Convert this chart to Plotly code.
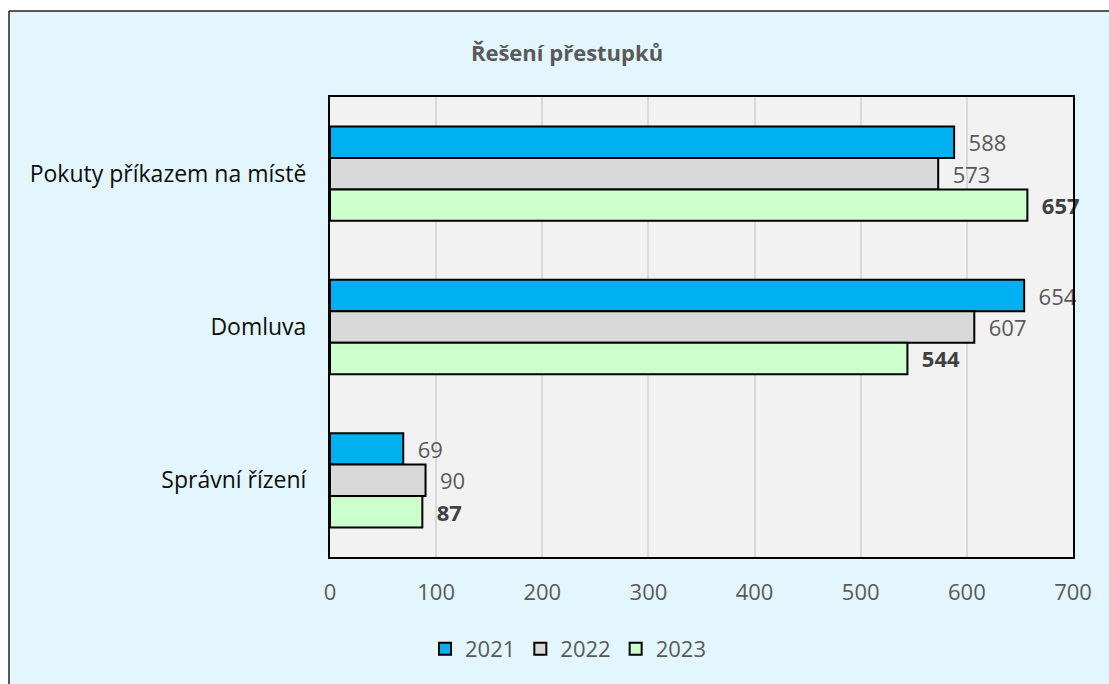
import plotly.graph_objects as go

categories = ["Pokuty příkazem na místě", "Domluva", "Správní řízení"]
years = ["2021", "2022", "2023"]
values_2021 = [588, 654, 69]
values_2022 = [573, 607, 90]
values_2023 = [657, 544, 87]
x_ticks = [0, 100, 200, 300, 400, 500, 600, 700]
title_text = "Řešení přestupků"

colors = ["#00B0F0", "#D9D9D9", "#CCFFCC"]
series = [values_2021, values_2022, values_2023]

W, H = 1109, 684
L, R, T, B = 330, 1073, 97, 557  # plot area pixel box
FONT = "Open Sans"

fig = go.Figure()
for i, (yr, vals, col) in enumerate(zip(years, series, colors)):
    bold = (i == 2)
    fig.add_trace(go.Bar(
        name=yr, y=categories, x=vals, orientation="h",
        marker=dict(color=col, line=dict(color="black", width=2)),
        text=[str(v) for v in vals],
        texttemplate="\u00a0\u00a0<b>%{text}</b>" if bold else "\u00a0\u00a0%{text}",
        textposition="outside",
        constraintext="none",
        cliponaxis=False,
        outsidetextfont=dict(family=FONT, size=22,
                             color="#404040" if bold else "#595959"),
        hoverinfo="skip",
    ))

def px_to_paper_x(px):
    return (px - L) / (R - L)

def px_to_paper_y(py):
    return (B - py) / (B - T)

shapes = [
    dict(type="rect", xref="paper", yref="paper",
         x0=px_to_paper_x(-5), x1=px_to_paper_x(W + 5),
         y0=px_to_paper_y(11), y1=px_to_paper_y(-5),
         fillcolor="white", line=dict(width=0), layer="below"),
    dict(type="rect", xref="paper", yref="paper",
         x0=px_to_paper_x(-5), x1=px_to_paper_x(9),
         y0=px_to_paper_y(H + 5), y1=px_to_paper_y(-5),
         fillcolor="white", line=dict(width=0), layer="below"),
    dict(type="line", xref="paper", yref="paper",
         x0=px_to_paper_x(9), x1=px_to_paper_x(W + 5),
         y0=px_to_paper_y(11), y1=px_to_paper_y(11),
         line=dict(color="#222222", width=1.5), layer="below"),
    dict(type="line", xref="paper", yref="paper",
         x0=px_to_paper_x(9), x1=px_to_paper_x(9),
         y0=px_to_paper_y(11), y1=px_to_paper_y(H + 5),
         line=dict(color="#222222", width=1.5), layer="below"),
]

fig.update_layout(
    width=W, height=H,
    margin=dict(l=L, r=W - R, t=T, b=H - B, autoexpand=False),
    paper_bgcolor="#E3F6FD",
    plot_bgcolor="#F2F2F2",
    barmode="group",
    bargap=0.385,
    bargroupgap=0,
    showlegend=True,
    legend=dict(orientation="h", xref="container", yref="container",
                x=568 / W, xanchor="center", y=1 - 649 / H, yanchor="middle",
                font=dict(family=FONT, size=22, color="#595959"),
                bgcolor="rgba(0,0,0,0)", itemwidth=30,
                traceorder="normal"),
    title=dict(text="<b>" + title_text + "</b>", xref="container", yref="container",
               x=567 / W, xanchor="center", y=1 - 53 / H, yanchor="middle",
               font=dict(family=FONT, size=22, color="#595959")),
    shapes=shapes,
    font=dict(family=FONT),
)

fig.update_xaxes(
    range=[0, 700], tickvals=x_ticks, ticktext=[str(t) for t in x_ticks],
    showgrid=True, gridcolor="#D9D9D9", gridwidth=1.5,
    zeroline=False, showline=True, mirror=True, linecolor="black", linewidth=2,
    ticks="", ticklabelstandoff=15,
    tickfont=dict(family=FONT, size=22, color="#595959"),
    fixedrange=True,
)
fig.update_yaxes(
    categoryorder="array", categoryarray=categories, autorange="reversed",
    showgrid=False, zeroline=False, showline=True, mirror=True,
    linecolor="black", linewidth=2, ticks="", ticklabelstandoff=17,
    tickfont=dict(family=FONT, size=23, color="#0D0D0D"),
    fixedrange=True,
)

fig.write_html("out.html", config={"displayModeBar": False},
               post_script="document.body.style.margin='0';document.body.style.overflow='hidden';")
